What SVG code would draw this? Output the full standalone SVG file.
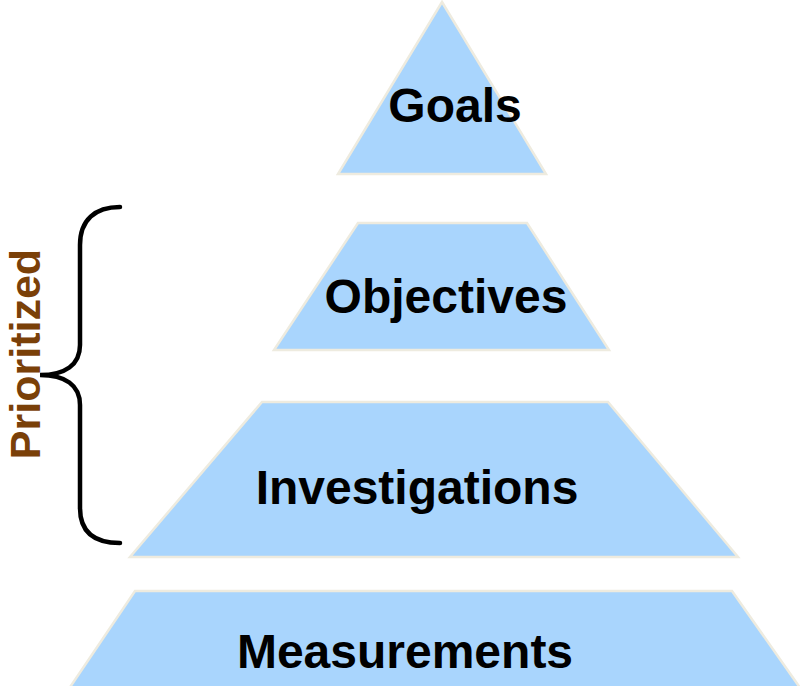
<svg xmlns="http://www.w3.org/2000/svg" width="800" height="686" viewBox="0 0 800 686">
<style>
.lvl{fill:#A9D5FD;stroke:#EEEBDF;stroke-width:2.5;stroke-linejoin:miter}
.lbl{font-family:"Liberation Sans",Arial,sans-serif;font-weight:bold;font-size:48px;fill:#000;text-anchor:middle}
.brace{fill:none;stroke:#000;stroke-width:4.5;stroke-linecap:round}
.side{font-family:"Liberation Sans",Arial,sans-serif;font-weight:bold;font-size:43px;fill:#7A4008;text-anchor:middle}
</style>
<rect width="800" height="686" fill="#fff"/>
<g id="goals">
<polygon class="lvl" points="442,2 546,174 338,174"/>
<text class="lbl" x="455" y="122">Goals</text>
</g>
<g id="objectives">
<polygon class="lvl" points="358,223 527,223 609,350 274,350"/>
<text class="lbl" x="446" y="313">Objectives</text>
</g>
<g id="investigations">
<polygon class="lvl" points="262,402 608,402 738,557 130,557"/>
<text class="lbl" x="417" y="504">Investigations</text>
</g>
<g id="measurements">
<polygon class="lvl" points="135,591 732,591 810,702 60,702"/>
<text class="lbl" x="405" y="668">Measurements</text>
</g>
<g id="connectors">
<path class="brace" d="M120,207 C95,207 80,220 80,245 L80,345 C80,365 65,375 40,375 C65,375 80,385 80,405 L80,508 C80,533 95,543 120,543"/>
</g>
<g id="prioritized">
<text class="side" transform="translate(40,354) rotate(-90)">Prioritized</text>
</g>
</svg>
